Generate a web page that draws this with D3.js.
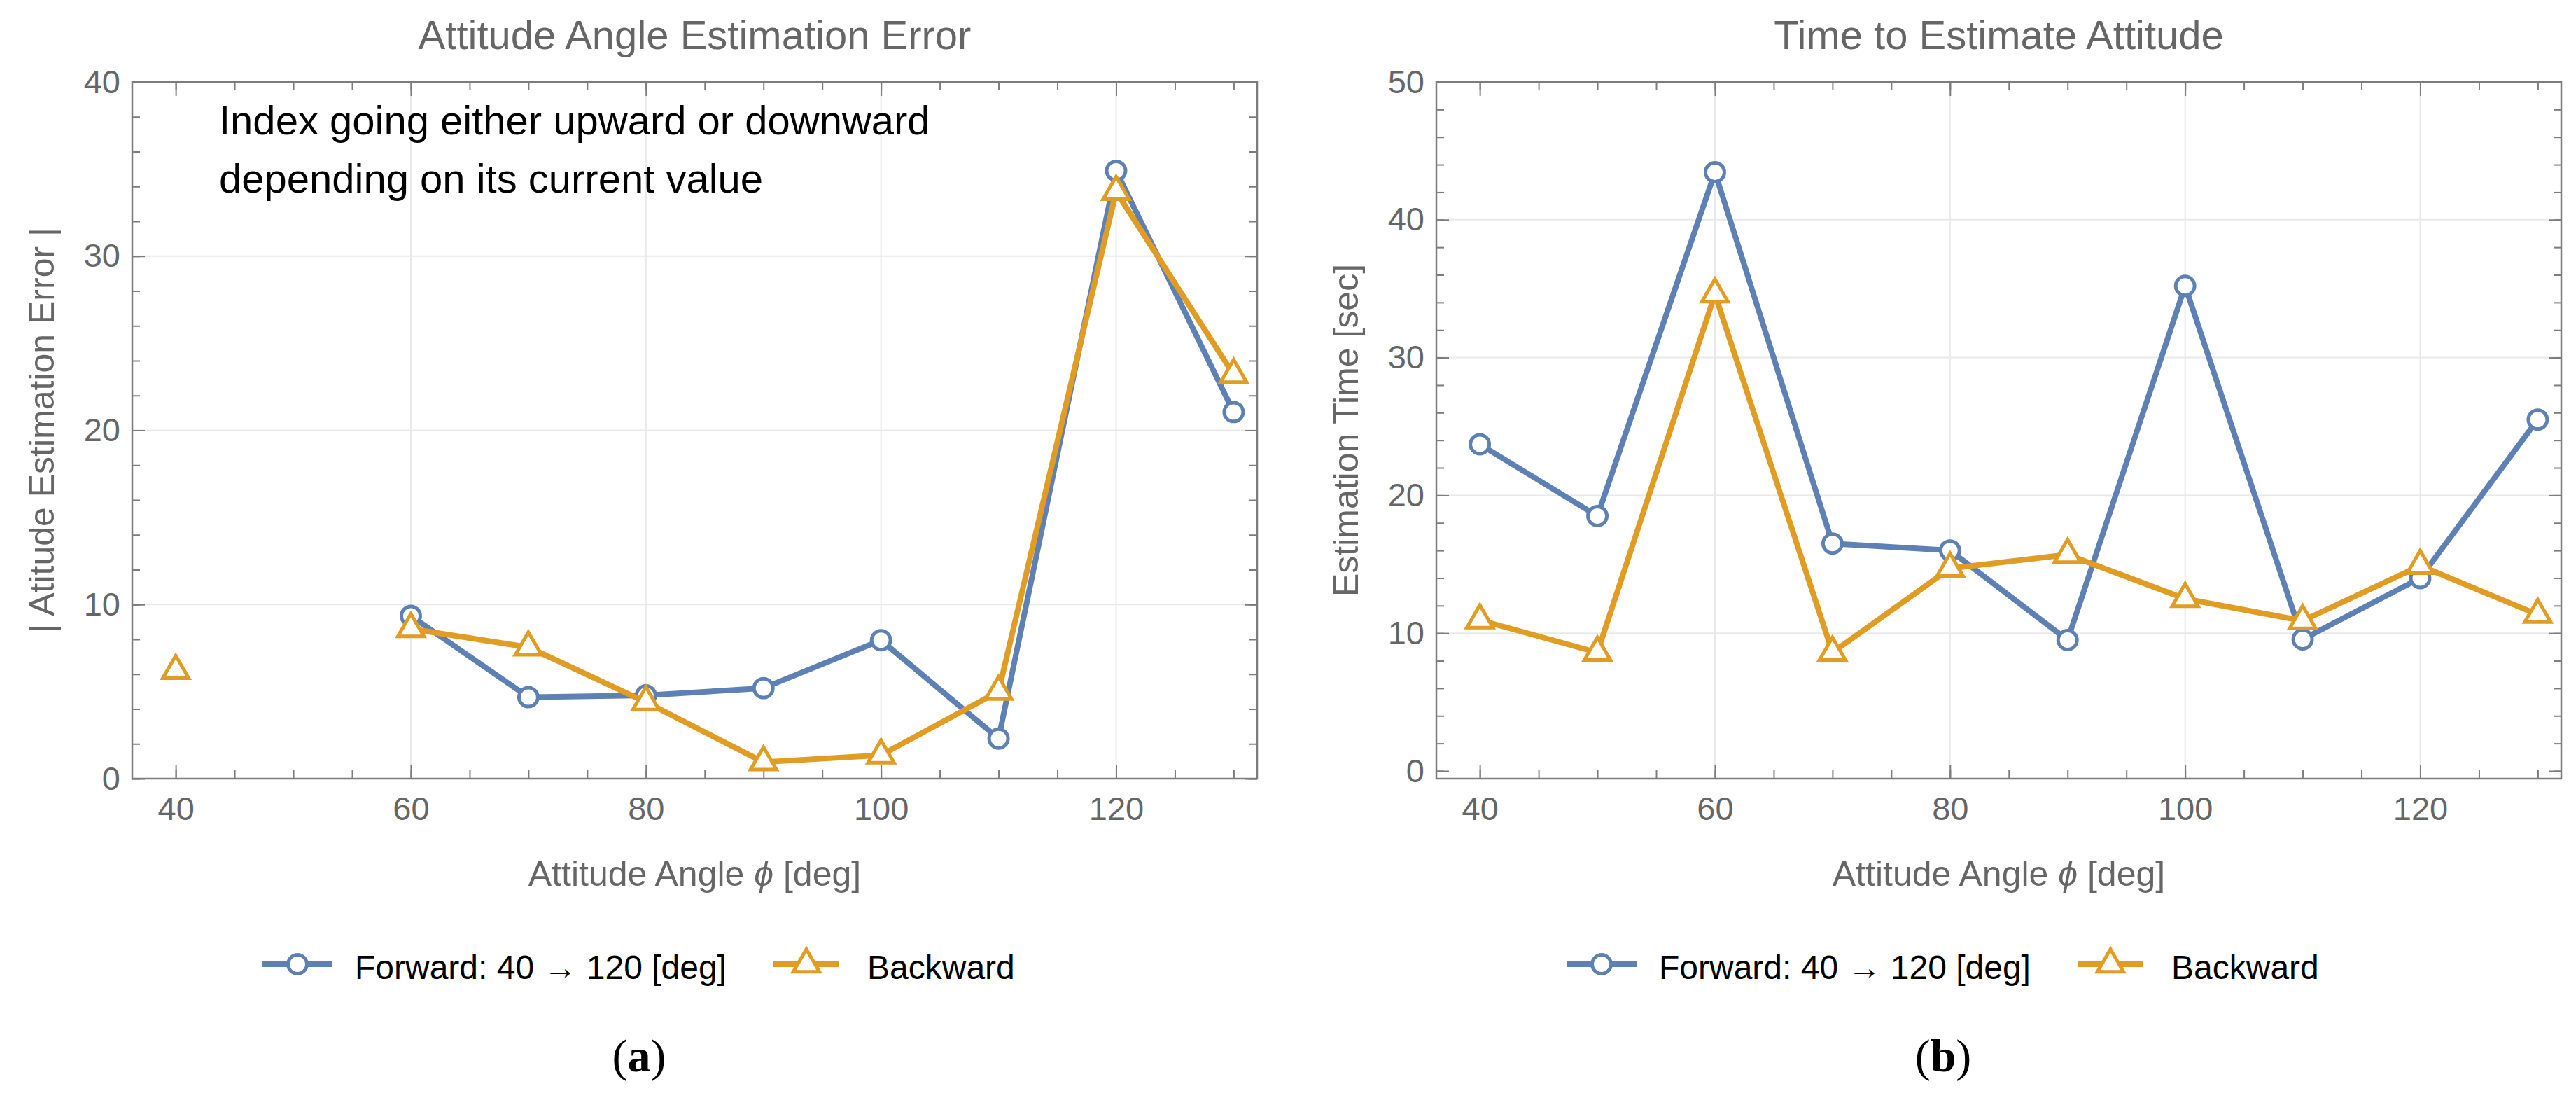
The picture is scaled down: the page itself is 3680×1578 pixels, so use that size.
<!DOCTYPE html>
<html>
<head>
<meta charset="utf-8">
<script src="https://cdn.jsdelivr.net/npm/d3@7"></script>
<style>
  body { margin: 0; background: #fff; }
  svg { display: block; font-family: 'Liberation Sans', Arial, sans-serif; }
</style>
</head>
<body>
<svg id="chart" width="3680" height="1578"></svg>
<script>
const BLUE =       '#5e81b5';
const ORANGE =     '#e19c24';
const AXIS_GRAY =  '#7c7c7c';
const TEXT_GRAY =  '#666666';
const GRID_GRAY =  '#e9e9e9';

// Values (null = no point)
const angles        = [40, 50, 60, 70, 80, 90, 100, 110, 120, 130];
const errorForward  = [null, null, 9.35, 4.68, 4.78, 5.2, 7.95, 2.3, 34.9, 21.05];
const errorBackward = [6.2, null, 8.6, 7.55, 4.4, 0.95, 1.35, 5.0, 33.7, 23.2];
const timeForward   = [23.7, 18.5, 43.45, 16.5, 16.0, 9.5, 35.2, 9.55, 14.0, 25.5];
const timeBackward  = [10.95, 8.6, 34.6, 8.6, 14.7, 15.7, 12.5, 10.9, 14.9, 11.35];

// Ticks and labels
const xTicks      = [40, 60, 80, 100, 120];
const xMinorTicks = [40, 45, 50, 55, 60, 65, 70, 75, 80, 85, 90, 95, 100, 105, 110, 115, 120, 125, 130];
const xGrid       = [60, 80, 100, 120];
const errorTicks  = [0, 10, 20, 30, 40];
const errorGrid   = [10, 20, 30];
const timeTicks   = [0, 10, 20, 30, 40, 50];
const timeGrid    = [10, 20, 30, 40];
const seriesNames = ['Forward: 40 \u2192 120 [deg]', 'Backward'];
const xDomain     = [36.3, 132];

const svg = d3.select('svg#chart');

function minorRange(lo, hi, step) {
    const out = [];
    for (let v = lo; v <= hi + 1e-9; v += step) out.push(+v.toFixed(6));
    return out;
}

/**
 * Draws one framed panel (Mathematica-style frame with inward ticks).
 */
function drawPanel(p) {
    const ox = p.offset;
    const left = ox + 189, right = ox + 1796, top = 117, bottom = 1112;

    const x = d3.scaleLinear().domain(xDomain).range([left, right]);
    const y = d3.scaleLinear().domain(p.yDomain).range([bottom, top]);

    const g = svg.append('g');

    // Grid lines
    g.selectAll('line.vgrid').data(xGrid).join('line')
        .attr('x1', d => x(d)).attr('x2', d => x(d))
        .attr('y1', top).attr('y2', bottom)
        .attr('stroke', GRID_GRAY).attr('stroke-width', 2);
    g.selectAll('line.hgrid').data(p.yGrid).join('line')
        .attr('x1', left).attr('x2', right)
        .attr('y1', d => y(d)).attr('y2', d => y(d))
        .attr('stroke', GRID_GRAY).attr('stroke-width', 2);

    // Frame
    g.append('rect')
        .attr('x', left).attr('y', top)
        .attr('width', right - left).attr('height', bottom - top)
        .attr('fill', 'none').attr('stroke', AXIS_GRAY).attr('stroke-width', 2.5);

    const yMinor = minorRange(Math.ceil(p.yDomain[0] / 2) * 2, p.yDomain[1], 2);

    // Axes: major + minor ticks on all four sides, labels on bottom and left
    const axes = [
        [d3.axisBottom(x).tickValues(xMinorTicks).tickSize(-12).tickFormat(''), `translate(0,${bottom})`],
        [d3.axisTop(x).tickValues(xMinorTicks).tickSize(-12).tickFormat(''), `translate(0,${top})`],
        [d3.axisTop(x).tickValues(xTicks).tickSize(-20).tickFormat(''), `translate(0,${top})`],
        [d3.axisLeft(y).tickValues(yMinor).tickSize(-11).tickFormat(''), `translate(${left},0)`],
        [d3.axisRight(y).tickValues(yMinor).tickSize(-11).tickFormat(''), `translate(${right},0)`],
        [d3.axisRight(y).tickValues(p.yTicks).tickSize(-18).tickFormat(''), `translate(${right},0)`],
        [d3.axisBottom(x).tickValues(xTicks).tickSize(-20).tickPadding(26), `translate(0,${bottom})`],
        [d3.axisLeft(y).tickValues(p.yTicks).tickSize(-18).tickPadding(17), `translate(${left},0)`]
    ];
    axes.forEach(([axis, tr]) => {
        const a = g.append('g').attr('transform', tr).call(axis);
        a.select('.domain').remove();
        a.selectAll('line').attr('stroke', AXIS_GRAY).attr('stroke-width', 2);
        a.selectAll('text')
            .attr('fill', TEXT_GRAY)
            .attr('font-size', 47)
            .attr('font-family', "'Liberation Sans', Arial, sans-serif");
    });

    // Series
    const line = d3.line()
        .defined(d => d.v != null)
        .x(d => x(d.a))
        .y(d => y(d.v));

    const series = [
        { values: p.forward, color: BLUE, symbol: d3.symbolCircle, size: 570 },
        { values: p.backward, color: ORANGE, symbol: d3.symbolTriangle, size: 600 }
    ];

    series.forEach(s => {
        const pts = angles.map((a, i) => ({ a: a, v: s.values[i] }));
        g.append('path')
            .datum(pts)
            .attr('d', line)
            .attr('fill', 'none')
            .attr('stroke', s.color)
            .attr('stroke-width', 8)
            .attr('stroke-linejoin', 'round');
        g.selectAll(null)
            .data(pts.filter(d => d.v != null))
            .join('path')
            .attr('transform', d => `translate(${x(d.a)},${y(d.v)})`)
            .attr('d', d3.symbol().type(s.symbol).size(s.size))
            .attr('fill', '#fff')
            .attr('stroke', s.color)
            .attr('stroke-width', 5);
    });

    // Title
    svg.append('text')
        .attr('x', (left + right) / 2).attr('y', 70)
        .attr('text-anchor', 'middle')
        .attr('font-size', 58)
        .attr('fill', TEXT_GRAY)
        .text(p.title);

    // Axis titles
    const xt = svg.append('text')
        .attr('x', (left + right) / 2).attr('y', 1265)
        .attr('text-anchor', 'middle')
        .attr('font-size', 50)
        .attr('fill', TEXT_GRAY);
    xt.append('tspan').text('Attitude Angle ');
    xt.append('tspan').attr('font-style', 'italic').text('\u03d5');
    xt.append('tspan').text(' [deg]');

    svg.append('text')
        .attr('transform', `translate(${ox + 77},${(top + bottom) / 2}) rotate(-90)`)
        .attr('text-anchor', 'middle')
        .attr('font-size', 50)
        .attr('fill', TEXT_GRAY)
        .text(p.yLabel);

    // Legend
    const legend = [
        { name: seriesNames[0], color: BLUE, symbol: d3.symbolCircle, size: 570, cx: 425, len: 100, tx: 507 },
        { name: seriesNames[1], color: ORANGE, symbol: d3.symbolTriangle, size: 600, cx: 1152, len: 94, tx: 1239 }
    ];
    legend.forEach(l => {
        svg.append('line')
            .attr('x1', ox + l.cx - l.len / 2).attr('x2', ox + l.cx + l.len / 2)
            .attr('y1', 1377).attr('y2', 1377)
            .attr('stroke', l.color).attr('stroke-width', 8);
        svg.append('path')
            .attr('transform', `translate(${ox + l.cx},1377)`)
            .attr('d', d3.symbol().type(l.symbol).size(l.size))
            .attr('fill', '#fff')
            .attr('stroke', l.color)
            .attr('stroke-width', 5);
        svg.append('text')
            .attr('x', ox + l.tx).attr('y', 1398)
            .attr('font-size', 48)
            .attr('fill', '#000')
            .text(l.name);
    });

    // Caption (a) / (b)
    const cap = svg.append('text')
        .attr('x', ox + 913).attr('y', 1530)
        .attr('text-anchor', 'middle')
        .attr('font-family', "'Liberation Serif', 'Times New Roman', serif")
        .attr('font-size', 66)
        .attr('fill', '#000');
    cap.append('tspan').text('(');
    cap.append('tspan').attr('font-weight', 'bold').text(p.caption);
    cap.append('tspan').text(')');

    return g;
}

drawPanel({
    offset: 0,
    title: 'Attitude Angle Estimation Error',
    yLabel: '| Atitude Estimation Error |',
    yDomain: [0, 40],
    yTicks: errorTicks,
    yGrid: errorGrid,
    forward: errorForward,
    backward: errorBackward,
    caption: 'a'
});

drawPanel({
    offset: 1863,
    title: 'Time to Estimate Attitude',
    yLabel: 'Estimation Time [sec]',
    yDomain: [-0.56, 50],
    yTicks: timeTicks,
    yGrid: timeGrid,
    forward: timeForward,
    backward: timeBackward,
    caption: 'b'
});

// Annotation inside the left panel
const note = svg.append('text')
    .attr('font-size', 58)
    .attr('fill', '#000');
note.append('tspan').attr('x', 313).attr('y', 192).text('Index going either upward or downward');
note.append('tspan').attr('x', 313).attr('y', 275).text('depending on its current value');
</script>
</body>
</html>
